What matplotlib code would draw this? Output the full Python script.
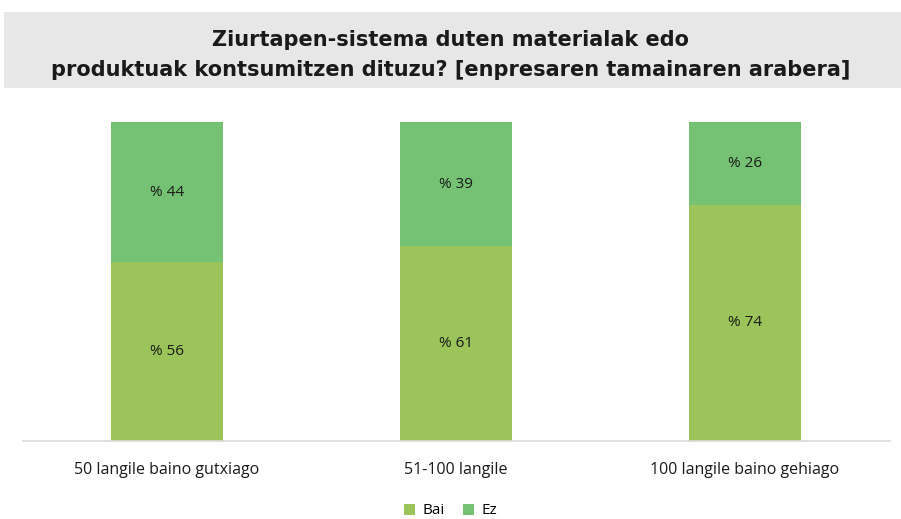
import matplotlib
matplotlib.use("Agg")
import matplotlib.pyplot as plt
from matplotlib.patches import Rectangle
import numpy as np

categories = ["50 langile baino gutxiago", "51-100 langile", "100 langile baino gehiago"]
bai = [56, 61, 74]
ez = [44, 39, 26]
series_names = ["Bai", "Ez"]
colors = ["#9BC45A", "#76C274"]
title_lines = ["Ziurtapen-sistema duten materialak edo",
               "produktuak kontsumitzen dituzu? [enpresaren tamainaren arabera]"]

fig = plt.figure(figsize=(9.01, 5.19), dpi=100)
fig.patch.set_facecolor("white")

# title band
fig.patches.append(Rectangle((4/901, 1 - 88/519), 1, 76/519, transform=fig.transFigure,
                             facecolor="#E7E7E8", edgecolor="none", zorder=0))
fig.text(0.5, 1 - 40/519, title_lines[0], ha="center", va="center", fontsize=15,
         fontweight="bold", family="DejaVu Sans", color="#1a1a1a")
fig.text(0.5, 1 - 70/519, title_lines[1], ha="center", va="center", fontsize=15,
         fontweight="bold", family="DejaVu Sans", color="#1a1a1a")

ax = fig.add_axes([22.5/901, 1 - 441/519, 867/901, 319/519])
x = np.arange(len(categories))
w = 0.39
b1 = ax.bar(x, bai, w, color=colors[0], label=series_names[0])
b2 = ax.bar(x, ez, w, bottom=bai, color=colors[1], label=series_names[1])
for i in range(len(categories)):
    ax.text(x[i], bai[i] / 2, f"% {bai[i]}", ha="center", va="center", fontsize=11,
            family="Open Sans", color="#1a1a1a")
    ax.text(x[i], bai[i] + ez[i] / 2, f"% {ez[i]}", ha="center", va="center", fontsize=11,
            family="Open Sans", color="#1a1a1a")

ax.set_xlim(-0.5, 2.5)
ax.set_ylim(0, 100)
ax.set_xticks(x)
ax.set_xticklabels(categories, fontsize=11.5, family="Open Sans", color="#1a1a1a")
ax.tick_params(axis="x", length=0, pad=15)
ax.set_yticks([])
for s in ["top", "right", "left"]:
    ax.spines[s].set_visible(False)
ax.spines["bottom"].set_color("#D9D9D9")
ax.spines["bottom"].set_linewidth(1.2)

leg = fig.legend(handles=[b1, b2], labels=series_names, loc="center",
                 bbox_to_anchor=(0.5, 1 - 511/519), ncol=2, frameon=False,
                 prop={"family": "Open Sans", "size": 11}, handlelength=0.7,
                 handleheight=0.7, columnspacing=1.2, handletextpad=0.5)

fig.savefig("out.png", dpi=100)
